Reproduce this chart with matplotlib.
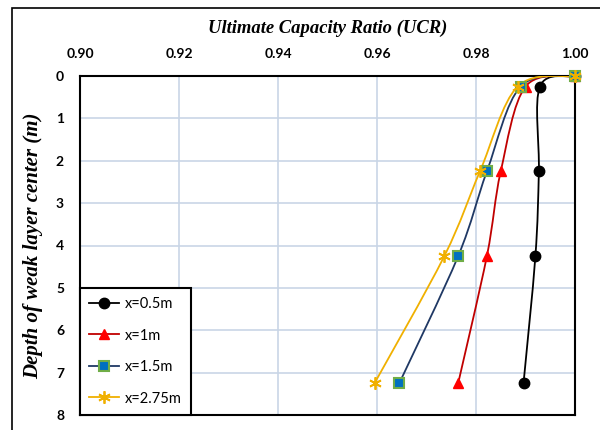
import matplotlib
matplotlib.use("Agg")
import matplotlib.pyplot as plt
from matplotlib.path import Path
from matplotlib.patches import PathPatch, Rectangle
from matplotlib.lines import Line2D
import numpy as np

depth = [0.0, 0.25, 2.25, 4.25, 7.25]
ucr_05 = [1.000, 0.9929, 0.9927, 0.9920, 0.9896]
ucr_1 = [1.000, 0.9900, 0.9850, 0.9822, 0.9764]
ucr_15 = [1.000, 0.9890, 0.9822, 0.9764, 0.9645]
ucr_275 = [1.000, 0.9884, 0.9808, 0.9736, 0.9595]
labels = ["x=0.5m", "x=1m", "x=1.5m", "x=2.75m"]
xticks = [0.90, 0.92, 0.94, 0.96, 0.98, 1.00]
yticks = [0, 1, 2, 3, 4, 5, 6, 7, 8]

styles = [
    dict(color="black", marker="o", mfc="black", mec="black", ms=7.5, mew=1),
    dict(color="#c00000", marker="^", mfc="#ff0000", mec="#ff0000", ms=7.5, mew=1),
    dict(color="#1f3864", marker="s", mfc="#0070c0", mec="#70ad47", ms=6.5, mew=1.5),
    dict(color="#f0b000", marker=(6, 2, 0), mfc="#f0b000", mec="#f0b000", ms=9, mew=1.3),
]

fig = plt.figure(figsize=(6, 4.3), dpi=100)
ax = fig.add_axes([80/600, 1-415/430, 495/600, 339/430])

def smooth_path(xs, ys):
    P = np.column_stack([xs, ys])
    n = len(P)
    verts = [P[0]]
    codes = [Path.MOVETO]
    for i in range(n-1):
        p0 = P[i-1] if i > 0 else P[i]
        p1 = P[i]
        p2 = P[i+1]
        p3 = P[i+2] if i+2 < n else P[i+1]
        c1 = p1 + (p2 - p0) / 6.0
        c2 = p2 - (p3 - p1) / 6.0
        verts += [c1, c2, p2]
        codes += [Path.CURVE4]*3
    return Path(verts, codes)

handles = []
for ys, st, lab in zip([ucr_05, ucr_1, ucr_15, ucr_275], styles, labels):
    patch = PathPatch(smooth_path(ys, depth), fill=False, edgecolor=st["color"], lw=1.3, zorder=3)
    ax.add_patch(patch)
    ax.plot(ys, depth, linestyle="none", marker=st["marker"], mfc=st["mfc"], mec=st["mec"],
            ms=st["ms"], mew=st["mew"], zorder=4, clip_on=False)
    handles.append(Line2D([], [], color=st["color"], lw=1.3, marker=st["marker"], mfc=st["mfc"],
                          mec=st["mec"], ms=st["ms"], mew=st["mew"], label=lab))

ax.set_xlim(0.90, 1.00)
ax.set_ylim(8, 0)
ax.set_xticks(xticks)
ax.set_yticks(yticks)
ax.set_xticklabels([f"{v:.2f}" for v in xticks])
ax.set_yticklabels([str(v) for v in yticks])
ax.xaxis.tick_top()
ax.xaxis.set_label_position("top")
ax.tick_params(length=0, labelsize=10)
ax.tick_params(axis="x", pad=11.5)
ax.tick_params(axis="y", pad=11.5)
for lbl in ax.get_xticklabels() + ax.get_yticklabels():
    lbl.set_fontfamily("Lato")
    lbl.set_fontweight("bold")
ax.grid(True, color="#c9d5e6", lw=1.2)
ax.set_axisbelow(True)
for s in ax.spines.values():
    s.set_linewidth(1.5)
    s.set_color("black")

ax.set_xlabel("Ultimate Capacity Ratio (UCR)", fontfamily="Liberation Serif", fontstyle="italic",
              fontweight="bold", fontsize=13.4, labelpad=11)
ax.set_ylabel("Depth of weak layer center (m)", fontfamily="Liberation Serif", fontstyle="italic",
              fontweight="bold", fontsize=15, labelpad=9)

leg = ax.legend(handles=handles, loc="lower left", bbox_to_anchor=(0, 0), borderaxespad=0,
                frameon=True, fancybox=False, edgecolor="black", framealpha=1,
                prop=dict(family="Lato", size=10.5), handlelength=2.0, handletextpad=0.4,
                labelspacing=1.2, borderpad=0.65)
leg.get_frame().set_linewidth(1.5)
leg.set_zorder(5)

fig.patches.append(Rectangle((12/600, -0.2), 1.2, 1.2 - 8/430, transform=fig.transFigure,
                             fill=False, edgecolor="black", lw=1.2))
fig.savefig("out.png", dpi=100)
